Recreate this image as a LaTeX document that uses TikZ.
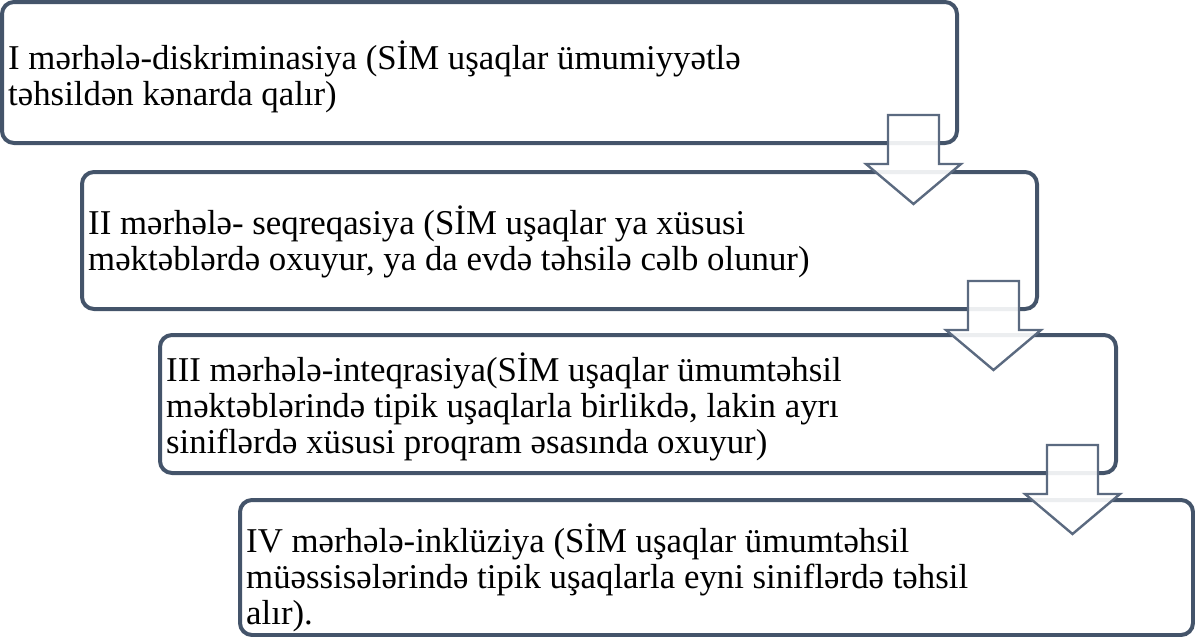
\documentclass[tikz,border=0pt]{standalone}
\usepackage{fontspec}
\setmainfont[Ligatures={NoCommon}]{Liberation Serif}
\usetikzlibrary{calc}
\definecolor{boxline}{HTML}{44546A}
\definecolor{arrline}{HTML}{5B6A80}
\begin{document}
\begin{tikzpicture}[x=1pt,y=-1pt,
  stagebox/.style={draw=boxline, line width=4pt, rounded corners=12pt, fill=white, inner sep=0pt},
  stagetext/.style={anchor=west, align=left, inner sep=0pt, font=\fontsize{34.8}{36}\selectfont},
  downarrow/.style={draw=arrline, line width=2.4pt, fill=white, fill opacity=0.9, line join=miter}]
\useasboundingbox (0,0) rectangle (1195,637);
\node[stagebox, minimum width=955pt, minimum height=141pt] (b1) at (479.5,72.5) {};
\node[stagebox, minimum width=955pt, minimum height=137pt] (b2) at (559.5,240.5) {};
\node[stagebox, minimum width=956pt, minimum height=138pt] (b3) at (638,404) {};
\node[stagebox, minimum width=953pt, minimum height=135pt] (b4) at (716.5,567.5) {};
\node[stagetext] (t1) at ($(b1.west)+(8,4.5)$) {I mərhələ-diskriminasiya (SİM uşaqlar ümumiyyətlə\\təhsildən kənarda qalır)};
\node[stagetext] (t2) at ($(b2.west)+(8,1.5)$) {II mərhələ- seqreqasiya (SİM uşaqlar ya xüsusi\\məktəblərdə oxuyur, ya da evdə təhsilə cəlb olunur)};
\node[stagetext] (t3) at ($(b3.west)+(8,3)$) {III mərhələ-inteqrasiya(SİM uşaqlar ümumtəhsil\\məktəblərində tipik uşaqlarla birlikdə, lakin ayrı\\siniflərdə xüsusi proqram əsasında oxuyur)};
\node[stagetext] (t4) at ($(b4.west)+(8,10)$) {IV mərhələ-inklüziya (SİM uşaqlar ümumtəhsil\\müəssisələrində tipik uşaqlarla eyni siniflərdə təhsil\\alır).};
\foreach \i in {1,2,3} {
  \coordinate (a\i) at ($(b\i.south east)+(-45.5,-30)$);
  \draw[downarrow] ($(a\i)+(-25.5,0)$) -- ++(51,0) -- ++(0,49) -- ++(22,0) -- ++(-47.5,40) -- ++(-47.5,-40) -- ++(22,0) -- cycle;
}
\end{tikzpicture}
\end{document}
